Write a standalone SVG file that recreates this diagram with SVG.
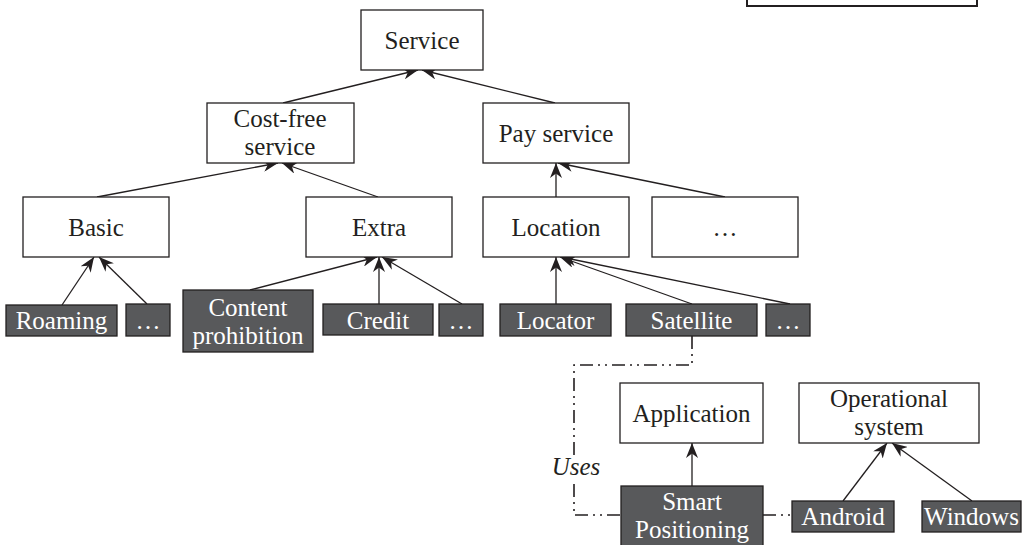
<svg xmlns="http://www.w3.org/2000/svg" width="1025" height="545" viewBox="0 0 1025 545">
<style>
.n rect{fill:#fff;stroke:#231f20;stroke-width:1.3}
.d rect{fill:#58595b;stroke:#231f20;stroke-width:1.3}
text{font-family:"Liberation Serif","Times New Roman",serif;font-size:25px;text-anchor:middle;fill:#231f20}
.d text{fill:#fff}
.c line{stroke:#231f20;stroke-width:1.3;marker-end:url(#ah)}
.u path{fill:none;stroke:#231f20;stroke-width:1.6;stroke-dasharray:13 5 2 5 2 5}
</style>
<defs>
<marker id="ah" viewBox="0 0 15 12" markerWidth="15" markerHeight="12" refX="15" refY="6" orient="auto" markerUnits="userSpaceOnUse">
<path d="M0,0 L15,6 L0,12 L4.5,6 z" fill="#231f20"/>
</marker>
</defs>
<rect x="747" y="-10" width="230" height="16" fill="#fff" stroke="#231f20" stroke-width="2"/>
<g class="c">
<line x1="283" y1="103" x2="418" y2="70"/>
<line x1="555" y1="103" x2="422" y2="70"/>
<line x1="97" y1="197" x2="278" y2="163"/>
<line x1="378" y1="197" x2="282" y2="163"/>
<line x1="556" y1="197" x2="556" y2="163"/>
<line x1="725" y1="197" x2="558" y2="163"/>
<line x1="62" y1="305" x2="94" y2="257"/>
<line x1="147" y1="304" x2="99" y2="257"/>
<line x1="250" y1="290" x2="377" y2="257"/>
<line x1="379" y1="304" x2="379" y2="257"/>
<line x1="462" y1="304" x2="382" y2="257"/>
<line x1="556" y1="304" x2="556" y2="257"/>
<line x1="692" y1="304" x2="560" y2="257"/>
<line x1="790" y1="304" x2="561" y2="257"/>
<line x1="692" y1="486" x2="692" y2="443"/>
<line x1="843" y1="501" x2="887" y2="443"/>
<line x1="972" y1="501" x2="892" y2="443"/>
</g>
<g class="u">
<path d="M692,336 V365 H574 V460"/>
<path d="M574,484 V515 H621"/>
<path d="M763,515 H792"/>
<text x="576" y="475" font-style="italic">Uses</text>
</g>
<g id="service" class="n"><rect x="361" y="10" width="122" height="60"/><text x="422" y="49">Service</text></g>
<g id="costfree" class="n"><rect x="207" y="103" width="147" height="60"/><text x="280" y="127">Cost-free</text><text x="280" y="155">service</text></g>
<g id="pay" class="n"><rect x="483" y="103" width="146" height="60"/><text x="556" y="142">Pay service</text></g>
<g id="basic" class="n"><rect x="23" y="197" width="146" height="60"/><text x="96" y="236">Basic</text></g>
<g id="extra" class="n"><rect x="306" y="197" width="146" height="60"/><text x="379" y="236">Extra</text></g>
<g id="location" class="n"><rect x="483" y="197" width="146" height="60"/><text x="556" y="236">Location</text></g>
<g id="more1" class="n"><rect x="652" y="197" width="146" height="60"/><text x="725" y="236">…</text></g>
<g id="roaming" class="d"><rect x="6" y="305" width="111" height="31"/><text x="61.5" y="329">Roaming</text></g>
<g id="basicmore" class="d"><rect x="126" y="304" width="44" height="32"/><text x="148" y="329">…</text></g>
<g id="content" class="d"><rect x="183" y="290" width="130" height="62"/><text x="248" y="316">Content</text><text x="248" y="344">prohibition</text></g>
<g id="credit" class="d"><rect x="323" y="304" width="110" height="31"/><text x="378" y="329">Credit</text></g>
<g id="extramore" class="d"><rect x="439" y="304" width="44" height="32"/><text x="461" y="329">…</text></g>
<g id="locator" class="d"><rect x="500" y="304" width="111" height="32"/><text x="555.5" y="329">Locator</text></g>
<g id="satellite" class="d"><rect x="626" y="304" width="131" height="32"/><text x="691.5" y="329">Satellite</text></g>
<g id="locmore" class="d"><rect x="766" y="304" width="44" height="32"/><text x="788" y="329">…</text></g>
<g id="application" class="n"><rect x="620" y="383" width="143" height="60"/><text x="691.5" y="422">Application</text></g>
<g id="os" class="n"><rect x="799" y="383" width="180" height="60"/><text x="889" y="407">Operational</text><text x="889" y="435">system</text></g>
<g id="smart" class="d"><rect x="621" y="486" width="142" height="70"/><text x="692" y="510">Smart</text><text x="692" y="538">Positioning</text></g>
<g id="android" class="d"><rect x="792" y="501" width="102" height="31"/><text x="843" y="525">Android</text></g>
<g id="windows" class="d"><rect x="922" y="501" width="99" height="31"/><text x="971.5" y="525">Windows</text></g>
</svg>
